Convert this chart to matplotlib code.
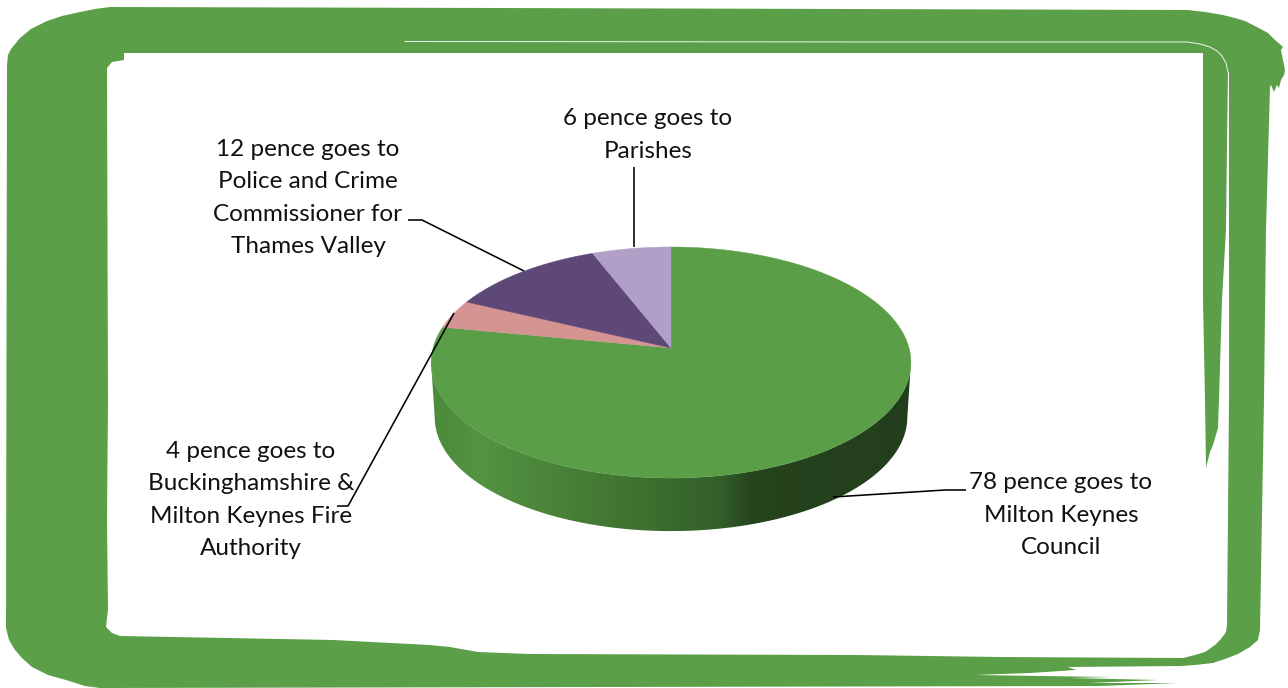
import numpy as np
import matplotlib
matplotlib.use('Agg')
import matplotlib.pyplot as plt
from matplotlib.colors import LinearSegmentedColormap
from matplotlib.patches import Polygon

# pence per pound, clockwise from 12 o'clock
pence = [78, 4, 12, 6]
slice_colors = ['#5a9f47', '#d59391', '#5e4878', '#b09fc6']
labels = ['78 pence goes to\nMilton Keynes\nCouncil',
          '4 pence goes to\nBuckinghamshire &\nMilton Keynes Fire\nAuthority',
          '12 pence goes to\nPolice and Crime\nCommissioner for\nThames Valley',
          '6 pence goes to\nParishes']
label_xy = [(1061, 515), (251, 500), (308, 198), (648, 135)]
leaders = [[(966, 490), (945, 490), (833, 497)],
           [(337, 506), (348, 506), (454, 313)],
           [(408, 220), (422, 220), (524, 271)],
           [(634, 167), (634, 247)]]

frame_color = '#5ba048'
frame_outer = [(7, 65), (8, 55), (11, 49), (20, 38), (31, 29), (47, 21), (62, 16), (80, 12), (95, 9), (110, 7),
               (500, 8), (1188, 10), (1205, 12), (1223, 15), (1235, 18), (1245, 21), (1257, 27), (1268, 33),
               (1275, 40), (1283, 47), (1281, 50), (1285, 70), (1284, 75),
               (1281, 80), (1279, 88), (1277, 85), (1274, 92), (1271, 85), (1270, 87), (1266, 230),
               (1264, 400), (1260, 630), (1258, 640), (1250, 647), (1238, 654), (1225, 659), (1213, 663),
               (1195, 665), (1181, 666),
               (1068, 667), (1076, 670), (1030, 673), (975, 675), (1111, 677), (1070, 678),
               (1158, 680), (1090, 683), (1178, 683), (1100, 686), (100, 688), (85, 686), (66, 680),
               (48, 675), (32, 667), (22, 658), (15, 650), (9, 640), (6, 628)]
frame_inner = [(124, 53), (1203, 53), (1203, 300), (1205, 400), (1206, 468), (1210, 452), (1213, 445),
               (1218, 428), (1219, 400), (1222, 300), (1226, 230), (1227, 145), (1228, 72), (1229, 72),
               (1229, 230), (1229, 400), (1227, 625), (1226, 632), (1221, 639), (1215, 645), (1205, 652),
               (1195, 655), (1183, 658), (1000, 657), (858, 655), (530, 654), (478, 652), (450, 647),
               (430, 645), (333, 640), (120, 636), (112, 633), (106, 627), (108, 610), (107, 520),
               (108, 400), (107, 68), (112, 62), (124, 60)]
frame_slit = [(405, 41.5), (900, 42), (1188, 42), (1200, 44), (1210, 47), (1217, 51), (1222, 56), (1226, 63), (1228, 72)]

cx, cy = 671, 348
persp, a, b = 0.1256, 113.7, 238.0
depth = 55
base_scale = 0.985


def ellipse(theta, scale=1.0, drop=0):
    u, v = np.sin(theta), np.cos(theta)
    w = 1 + persp * v
    return cx + scale * b * u / w, cy - scale * a * v / w + drop


fig = plt.figure(figsize=(12.88, 6.88), dpi=100, facecolor='white')
ax = fig.add_axes([0, 0, 1, 1])
ax.axis('off')

# brush frame
ax.fill(*zip(*frame_outer), color=frame_color, lw=0, zorder=1)
ax.fill(*zip(*frame_inner), color='white', lw=0, zorder=2)
ax.plot(*zip(*frame_slit), color='#f2f7f0', lw=0.7, zorder=2)

edges = np.cumsum([0] + pence) / sum(pence) * 2 * np.pi

# side wall of the big slice, shaded left to right, between the widest points of the disc
side_cmap = LinearSegmentedColormap.from_list('side', [(0, '#4c8a3c'), (0.1, '#539342'), (0.25, '#4a8439'),
                                                       (0.45, '#3e6f2f'), (0.6, '#33602a'), (0.67, '#26441e'),
                                                       (1, '#233e1c')])
widest = np.arccos(-persp)
t = np.linspace(widest, 2 * np.pi - widest, 300)
x1, y1 = ellipse(t)
x2, y2 = ellipse(t, base_scale, depth)
wall = Polygon(np.c_[np.r_[x1, x2[::-1]], np.r_[y1, y2[::-1]]], closed=True, transform=ax.transData)
im = ax.imshow(np.linspace(0, 1, 480).reshape(1, -1), cmap=side_cmap, aspect='auto',
               extent=(431, 911, 540, 300), interpolation='bilinear', zorder=3)
im.set_clip_path(wall)

# top face
for i, val in enumerate(pence):
    t = np.linspace(edges[i], edges[i + 1], 200)
    x, y = ellipse(t)
    ax.fill(np.r_[cx, x], np.r_[cy, y], color=slice_colors[i], lw=0.3, zorder=4)

for pts in leaders:
    ax.plot(*zip(*pts), color='black', lw=1.15, solid_capstyle='butt', zorder=5)

for txt, (x, y) in zip(labels, label_xy):
    ax.text(x, y, txt, ha='center', va='center', fontsize=17.5, family='Lato', color='#111111',
            linespacing=1.67, zorder=6)

ax.set_xlim(0, 1288)
ax.set_ylim(688, 0)
fig.savefig('out.png', dpi=100)
